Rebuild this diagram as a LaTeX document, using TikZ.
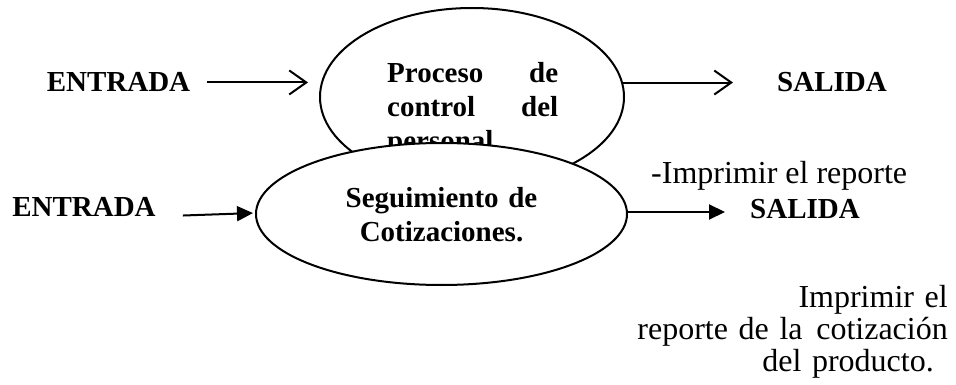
\documentclass[tikz,border=0pt]{standalone}
\usepackage{fontspec}
\setmainfont{Liberation Serif}
\usetikzlibrary{shapes.geometric,arrows.meta}
\begin{document}
\begin{tikzpicture}[x=1pt,y=1pt,
  lbl/.style={inner sep=0pt, font=\fontsize{29}{34}\selectfont\bfseries},
  txt/.style={inner sep=0pt, font=\fontsize{32}{32}\selectfont},
  proc/.style={ellipse, draw, line width=2pt, inner sep=0pt},
  openarr/.style={line width=2pt, -{Straight Barb[length=17pt,width=24pt]}},
  fillarr/.style={line width=2pt, -{Triangle[length=16pt,width=15pt]}}]
\useasboundingbox (0,0) rectangle (956,-385);
% top process
\node[proc, minimum width=304pt, minimum height=178pt] (p1) at (472,-97) {};
\node[lbl, text width=171pt, align=justify, anchor=base west] (t1) at (387,-83)
  {Proceso de\linebreak control del\linebreak personal};
\node[lbl, anchor=base] (e1) at (118.5,-92) {ENTRADA};
\node[lbl, anchor=base] (s1) at (832,-92) {SALIDA};
\draw[openarr, shorten <=17pt, shorten >=11pt] (e1.east) -- (e1.east -| p1.west);
\draw[openarr, shorten <=-2pt, shorten >=44pt] (s1.west -| p1.east) -- (s1.west);
% lower process
\node[proc, fill=white, minimum width=371pt, minimum height=142pt] (p2) at (441.5,-214) {};
\node[lbl, text width=220pt, align=center, anchor=base, font=\fontsize{29}{35}\selectfont\bfseries] (t2) at (441.5,-207)
  {Seguimiento de\\Cotizaciones.};
\node[lbl, anchor=base] (e2) at (84,-216) {ENTRADA};
\node[lbl, anchor=base] (s2) at (805,-218) {SALIDA};
\draw[fillarr, shorten <=27pt, shorten >=2pt] ([yshift=-10pt]e2.east) -- ([yshift=1pt]p2.west);
\draw[fillarr, shorten >=25pt] ([yshift=2pt]p2.east) -- ([yshift=2pt]p2.east -| s2.west);
\node[txt, anchor=base west] (n1) at (651,-183) {-Imprimir el reporte};
\node[txt, text width=360pt, align=right, anchor=base east] (n2) at (948,-307)
  {Imprimir el\\reporte de la\hspace{3pt} cotización\\del producto.\kern14pt};
\end{tikzpicture}
\end{document}
